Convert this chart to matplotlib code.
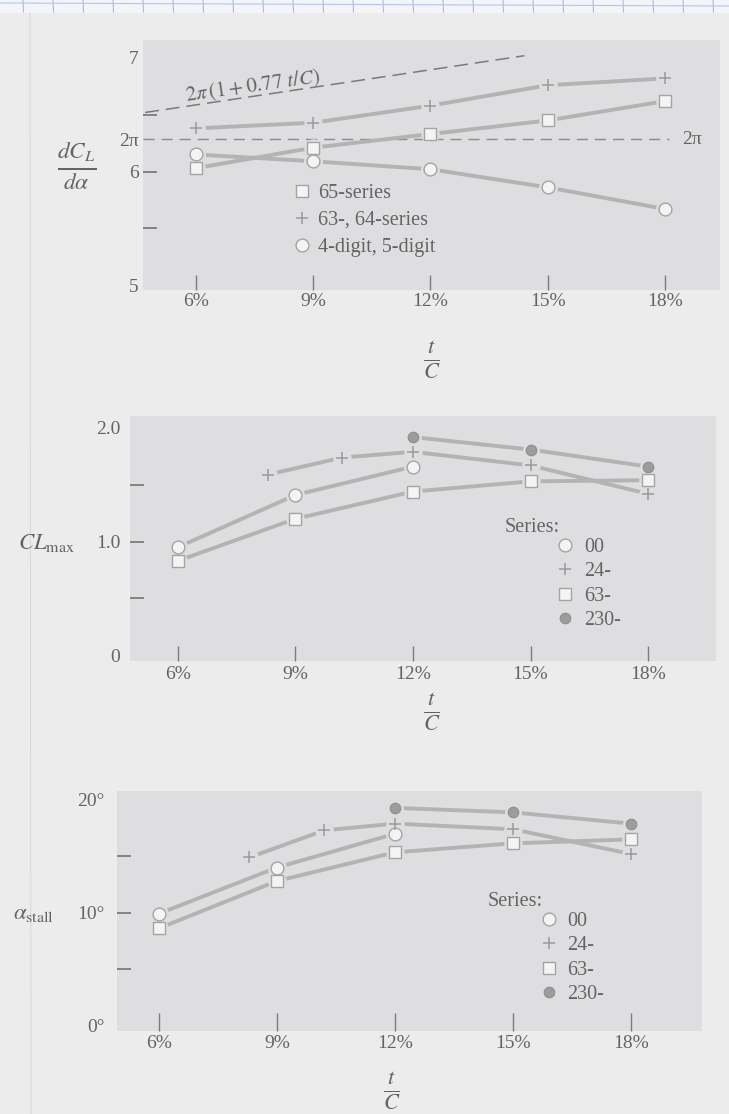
import numpy as np
import matplotlib
matplotlib.use("Agg")
import matplotlib.pyplot as plt
from matplotlib.lines import Line2D
from matplotlib.patches import Rectangle

# ---------------- data ----------------
tc = [6, 9, 12, 15, 18]
slope_65 = [6.03, 6.21, 6.33, 6.45, 6.62]
slope_6364 = [6.38, 6.43, 6.58, 6.76, 6.82]
slope_4d5d = [6.15, 6.09, 6.02, 5.86, 5.67]
theory_tc = [4.7, 14.4]
theory_slope = [6.52, 7.02]
twopi_tc = [4.64, 18.1]

tc_00 = [6, 9, 12]
tc_24 = [8.3, 10.2, 12, 15, 18]
tc_63 = [6, 9, 12, 15, 18]
tc_230 = [12, 15, 18]
clmax_00 = [0.95, 1.41, 1.66]
clmax_24 = [1.59, 1.74, 1.79, 1.67, 1.42]
clmax_63 = [0.83, 1.20, 1.44, 1.53, 1.54]
clmax_230 = [1.92, 1.81, 1.66]
astall_00 = [9.9, 14.0, 17.0]
astall_24 = [14.9, 17.3, 17.9, 17.4, 15.2]
astall_63 = [8.6, 12.8, 15.35, 16.15, 16.5]
astall_230 = [19.3, 18.9, 17.9]

xtick_vals = [6, 9, 12, 15, 18]
xtick_labels = ["6%", "9%", "12%", "15%", "18%"]
p1_yticks = [5, 5.5, 6, 2 * np.pi, 6.5, 7]
p1_ylabels = ["5", "", "6", "2\u03c0", "", "7"]
p2_yticks = [0, 0.5, 1.0, 1.5, 2.0]
p2_ylabels = ["0", "", "1.0", "", "2.0"]
p3_yticks = [0, 5, 10, 15, 20]
p3_ylabels = ["0\u00b0", "", "10\u00b0", "", "20\u00b0"]
legend1 = ["65-series", "63-, 64-series", "4-digit, 5-digit"]
legend2 = ["00", "24-", "63-", "230-"]

# ---------------- style ----------------
plt.rcParams["font.family"] = ["Liberation Serif", "DejaVu Serif"]
plt.rcParams["mathtext.fontset"] = "stix"
plt.rcParams["lines.scale_dashes"] = False

PAGE = "#ececed"
PANEL = "#dedee0"
LINE = "#b3b3b3"
MEDGE = "#a4a4a4"
MFACE = "#f4f4f4"
FILLED = "#9c9c9c"
TXT = "#646464"
TICK = "#7c7c7c"
FS = 14

W, H = 729, 1114
fig = plt.figure(figsize=(W / 100, H / 100), dpi=100)
fig.patch.set_facecolor(PAGE)


def fx(x):
    return x / W


def fy(y):
    return 1 - y / H


def add_ax(left, top, right, bottom):
    return fig.add_axes([fx(left), fy(bottom), (right - left) / W, (bottom - top) / H])


# graph-paper strip at top of the scan
fig.add_artist(Rectangle((0, fy(13)), 1, 13 / H, transform=fig.transFigure,
                         facecolor="#f3f5fa", edgecolor="none", zorder=0))
for xv in range(23, W, 30):
    fig.add_artist(Line2D([fx(xv), fx(xv + 0.5)], [fy(0), fy(12)], transform=fig.transFigure,
                          color="#a9b9e8", lw=0.8, zorder=1))
fig.add_artist(Line2D([0, 1], [fy(3), fy(6)], transform=fig.transFigure,
                      color="#b7c4ec", lw=0.8, zorder=1))
fig.add_artist(Line2D([fx(30), fx(31)], [fy(13), fy(H)], transform=fig.transFigure,
                      color="#dadada", lw=0.8, zorder=1))


def style_axes(ax, yt, yl, hide_idx, xpad, ypad, xlen):
    ax.set_facecolor(PANEL)
    for s in ax.spines.values():
        s.set_visible(False)
    ax.set_xticks(xtick_vals)
    ax.set_xticklabels(xtick_labels)
    ax.set_yticks(yt)
    ax.set_yticklabels(yl)
    ax.tick_params(axis="x", direction="in", length=xlen, width=1.0, color=TICK,
                   pad=xpad, labelsize=FS, labelcolor=TXT)
    ax.tick_params(axis="y", direction="in", length=10, width=1.3, color=TICK,
                   pad=ypad, labelsize=FS, labelcolor=TXT)
    for i, t in enumerate(ax.yaxis.get_major_ticks()):
        if i in hide_idx:
            t.tick1line.set_visible(False)


def draw_series(ax, x, y, marker, ms, filled=False):
    ax.plot(x, y, "-", color=LINE, lw=2.8, solid_capstyle="butt", zorder=2)
    ax.plot(x, y, linestyle="none", marker="o", ms=ms + 3.5, mfc=PANEL, mec=PANEL,
            zorder=3)
    if filled:
        ax.plot(x, y, linestyle="none", marker=marker, ms=ms, mfc=FILLED, mec="#8e8e8e",
                mew=0.8, zorder=4)
    elif marker == "+":
        ax.plot(x, y, linestyle="none", marker=marker, ms=ms, mec="#9a9a9a", mew=1.1,
                zorder=4)
    else:
        ax.plot(x, y, linestyle="none", marker=marker, ms=ms, mfc=MFACE, mec=MEDGE,
                mew=1.0, zorder=4)


def handle(marker, ms, filled=False):
    if filled:
        return Line2D([], [], linestyle="none", marker=marker, ms=ms, mfc=FILLED,
                      mec="#8e8e8e", mew=0.8)
    if marker == "+":
        return Line2D([], [], linestyle="none", marker=marker, ms=ms, mec="#9a9a9a",
                      mew=1.1)
    return Line2D([], [], linestyle="none", marker=marker, ms=ms, mfc=MFACE, mec=MEDGE,
                  mew=1.0)


# ================= Panel 1 : lift-curve slope =================
ax1 = add_ax(143, 40, 720, 290)
ax1.set_xlim(6 - (196 - 143) / 39.08, 18 + (720 - 665) / 39.08)
ax1.set_ylim(5 - 5 / 113.5, 7 + 18 / 113.5)
style_axes(ax1, p1_yticks, p1_ylabels, {0, 3, 5}, xpad=2.5, ypad=3, xlen=11)

ax1.plot(twopi_tc, [2 * np.pi] * len(twopi_tc), ls=(0, (8, 5)), color="#8a8a8a",
         lw=1.0, zorder=1.5)
ax1.plot(theory_tc, theory_slope, ls=(0, (10, 5)), color="#7a7a7a", lw=1.1, zorder=1.5)
ax1.text(7.46, 6.75, r"$2\pi\,(1 + 0.77\ t/C)$", fontsize=15, color=TXT,
         ha="center", va="center", rotation=8.0)
ax1.text(18.45, 2 * np.pi, "2\u03c0", fontsize=FS, color=TXT, ha="left", va="center")

draw_series(ax1, tc, slope_65, "s", 8.8)
draw_series(ax1, tc, slope_6364, "+", 8.8)
draw_series(ax1, tc, slope_4d5d, "o", 9.2)

ax1.legend([handle("s", 8.8), handle("+", 8.8), handle("o", 9.2)], legend1,
           loc="upper left", bbox_to_anchor=(fx(294), fy(184)), bbox_transform=fig.transFigure,
           frameon=False, borderpad=0, borderaxespad=0, handlelength=0.8,
           handletextpad=0.4, labelspacing=0.38, fontsize=14.5, labelcolor=TXT)

fig.text(fx(77), fy(166), r"$\frac{dC_L}{d\alpha}$", fontsize=24, color=TXT,
         ha="center", va="center")
fig.text(fx(432), fy(360), r"$\frac{t}{C}$", fontsize=23, color=TXT,
         ha="center", va="center")

# ================= Panel 2 : CLmax =================
ax2 = add_ax(130, 416, 716, 661)
ax2.set_xlim(6 - (178 - 130) / 39.17, 18 + (716 - 648) / 39.17)
ax2.set_ylim(-6 / 113.5, 2 + 12 / 113.5)
style_axes(ax2, p2_yticks, p2_ylabels, {0, 4}, xpad=3.5, ypad=7, xlen=11)

draw_series(ax2, tc_00, clmax_00, "o", 9.2)
draw_series(ax2, tc_24, clmax_24, "+", 8.8)
draw_series(ax2, tc_63, clmax_63, "s", 8.8)
draw_series(ax2, tc_230, clmax_230, "o", 7.6, filled=True)

fig.text(fx(505), fy(527), "Series:", fontsize=14.5, color=TXT, ha="left", va="center")
ax2.legend([handle("o", 9.2), handle("+", 8.8), handle("s", 8.8), handle("o", 7.6, True)],
           legend2, loc="upper left", bbox_to_anchor=(fx(557), fy(538)),
           bbox_transform=fig.transFigure, frameon=False, borderpad=0, borderaxespad=0,
           handlelength=0.8, handletextpad=0.55, labelspacing=0.26, fontsize=14.5,
           labelcolor=TXT)

fig.text(fx(47), fy(543), r"$CL_{\rm max}$", fontsize=16.5, color=TXT,
         ha="center", va="center")
fig.text(fx(432), fy(712), r"$\frac{t}{C}$", fontsize=23, color=TXT,
         ha="center", va="center")

# ================= Panel 3 : stall angle =================
ax3 = add_ax(117, 791, 702, 1031)
ax3.set_xlim(6 - (159 - 117) / 39.33, 18 + (702 - 631) / 39.33)
ax3.set_ylim(-6 / 11.25, 20 + 9 / 11.25)
style_axes(ax3, p3_yticks, p3_ylabels, {0, 4}, xpad=3, ypad=9, xlen=13)

draw_series(ax3, tc_00, astall_00, "o", 9.2)
draw_series(ax3, tc_24, astall_24, "+", 8.8)
draw_series(ax3, tc_63, astall_63, "s", 8.8)
draw_series(ax3, tc_230, astall_230, "o", 7.6, filled=True)

fig.text(fx(488), fy(901), "Series:", fontsize=14.5, color=TXT, ha="left", va="center")
ax3.legend([handle("o", 9.2), handle("+", 8.8), handle("s", 8.8), handle("o", 7.6, True)],
           legend2, loc="upper left", bbox_to_anchor=(fx(541), fy(912)),
           bbox_transform=fig.transFigure, frameon=False, borderpad=0, borderaxespad=0,
           handlelength=0.8, handletextpad=0.5, labelspacing=0.26, fontsize=14.5,
           labelcolor=TXT)

fig.text(fx(34), fy(913), r"$\alpha_{\rm stall}$", fontsize=16.5, color=TXT,
         ha="center", va="center")
fig.text(fx(392), fy(1091), r"$\frac{t}{C}$", fontsize=23, color=TXT,
         ha="center", va="center")

fig.savefig("out.png", dpi=100, facecolor=PAGE)
